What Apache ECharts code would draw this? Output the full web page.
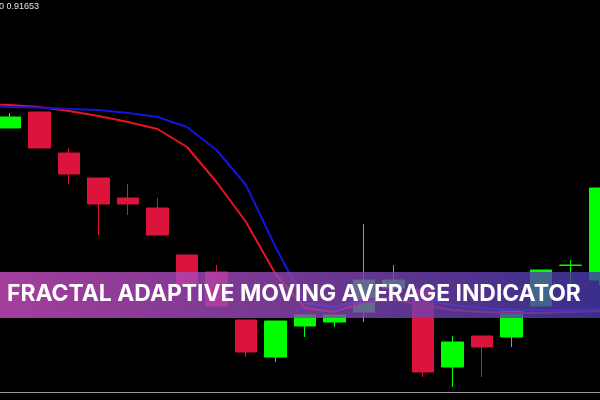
<!DOCTYPE html>
<html><head><meta charset="utf-8">
<script src="https://cdn.jsdelivr.net/npm/echarts@6/dist/echarts.min.js"></script>
<style>html,body{margin:0;padding:0;background:#000}#c{width:600px;height:400px}</style>
</head><body><div id="c"></div>
<script>
// Bar positions (bar index)
const barIndex = [0,1,2,3,4,5,6,7,8,9,10,11,12,13,14,15,16,17,18,19,20];
const opens  = [0.91344,0.91376,0.91294,0.91244,0.91204,0.91184,0.91090,0.91056,0.90960,0.90886,0.90948,0.90956,0.90976,0.91024,0.91022,0.90866,0.90928,0.90926,0.90988,0.91069,0.91040];
const closes = [0.91366,0.91304,0.91252,0.91192,0.91192,0.91130,0.91030,0.90988,0.90896,0.90958,0.90970,0.90970,0.91040,0.91040,0.90856,0.90916,0.90906,0.90978,0.91060,0.91070,0.91224];
const lows   = [0.91344,0.91304,0.91232,0.91130,0.91170,0.91130,0.91030,0.90986,0.90886,0.90876,0.90926,0.90946,0.90956,0.91010,0.90846,0.90826,0.90846,0.90906,0.90988,0.91026,0.91030];
const highs  = [0.91374,0.91376,0.91304,0.91244,0.91232,0.91204,0.91090,0.91070,0.90960,0.90958,0.90970,0.90970,0.91152,0.91070,0.91022,0.90928,0.90928,0.90978,0.91060,0.91080,0.91224];

// Indicator lines (bar index incl. one bar before the visible window)
const lineIndex = [-1,0,1,2,3,4,5,6,7,8,9,10,11,12,13,14,15,16,17,18,19,20];
const framaRed  = [0.91392,0.91390,0.91386,0.91378,0.91368,0.91356,0.91342,0.91306,0.91236,0.91156,0.91052,0.90984,0.90976,0.90996,0.91000,0.90990,0.90980,0.90976,0.90974,0.90974,0.90976,0.90978];
const framaBlue = [0.91388,0.91386,0.91385,0.91382,0.91380,0.91374,0.91366,0.91346,0.91300,0.91230,0.91106,0.90994,0.90986,0.91000,0.91006,0.91000,0.90990,0.90984,0.90980,0.90980,0.90980,0.90982];

const titleText = 'FRACTAL ADAPTIVE MOVING AVERAGE INDICATOR';
const priceLabel = '0 0.91653';

const candleData = barIndex.map((x, i) => [x, opens[i], closes[i], lows[i], highs[i]]);
const redData = lineIndex.map((x, i) => [x, framaRed[i]]);
const blueData = lineIndex.map((x, i) => [x, framaBlue[i]]);

// fit title font to the banner text width
const fam = 'Inter, "Open Sans", sans-serif';
const mctx = document.createElement('canvas').getContext('2d');
mctx.font = '700 22px ' + fam;
const w22 = mctx.measureText(titleText).width || 560;
const titleSize = Math.round(22 * 575 / w22 * 10) / 10;

const chart = echarts.init(document.getElementById('c'), null, {renderer: 'canvas'});
chart.setOption({
  backgroundColor: '#000',
  animation: false,
  grid: {left: 0, right: 0, top: 0, bottom: 8, containLabel: false},
  xAxis: {
    type: 'value', min: -0.339, max: 20,
    axisLine: {show: true, lineStyle: {color: '#9a9a9a', width: 1}},
    axisTick: {show: false}, axisLabel: {show: false}, splitLine: {show: false}
  },
  yAxis: {
    type: 'value', min: 0.90816, max: 0.91600, scale: true,
    axisLine: {show: false}, axisTick: {show: false}, axisLabel: {show: false}, splitLine: {show: false}
  },
  series: [
    {
      type: 'candlestick',
      data: candleData,
      encode: {x: 0, y: [1, 2, 3, 4]},
      barWidth: 22,
      itemStyle: {
        color: '#00ff00', color0: '#dc143c',
        borderColor: '#00ff00', borderColor0: '#dc143c', borderColorDoji: '#00ff00',
        borderWidth: 1
      },
      z: 2
    },
    {
      type: 'line', data: redData, symbol: 'none', clip: true,
      lineStyle: {color: '#e8141e', width: 2}, z: 3
    },
    {
      type: 'line', data: blueData, symbol: 'none', clip: true,
      lineStyle: {color: '#1414dc', width: 2}, z: 4
    }
  ],
  graphic: [
    {
      type: 'rect', z: 100,
      shape: {x: 0, y: 272, width: 600, height: 46},
      style: {
        fill: {type: 'linear', x: 0, y: 0, x2: 1, y2: 0, colorStops: [
          {offset: 0, color: 'rgba(205,78,196,0.80)'},
          {offset: 0.5, color: 'rgba(140,70,180,0.80)'},
          {offset: 1, color: 'rgba(70,58,172,0.80)'}
        ]}
      }
    },
    {
      type: 'text', z: 101,
      style: {
        text: titleText, x: 7, y: 294,
        fill: '#ffffff', font: '700 ' + titleSize + 'px ' + fam,
        verticalAlign: 'middle', align: 'left'
      }
    },
    {
      type: 'text', z: 101,
      style: {
        text: priceLabel, x: -1, y: 7,
        fill: '#e6e6e6', font: '9px "Liberation Sans", Arial, sans-serif',
        verticalAlign: 'middle', align: 'left'
      }
    }
  ]
});
</script>
</body></html>
